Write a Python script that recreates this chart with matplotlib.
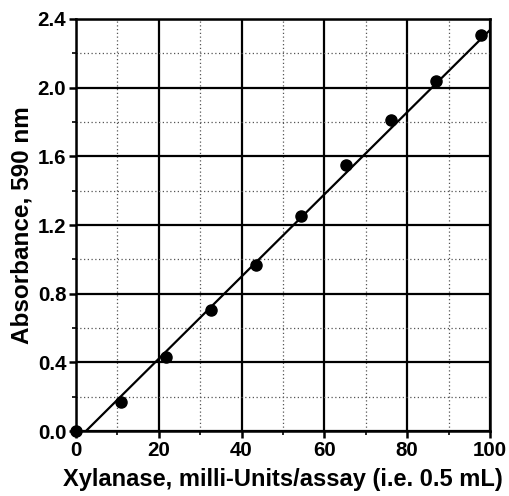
import numpy as np
import matplotlib
matplotlib.use('Agg')
import matplotlib.pyplot as plt
from matplotlib.ticker import MultipleLocator, FormatStrFormatter

# Standard curve readings
xylanase = [0, 10.9, 21.8, 32.6, 43.5, 54.4, 65.3, 76.2, 87.0, 97.9]
absorbance = [0.0, 0.171, 0.431, 0.703, 0.965, 1.252, 1.549, 1.811, 2.040, 2.306]

# fitted line end points
fit_x = [2.4, 100]
fit_y = [0.0, 2.336]

plt.rcParams['font.family'] = ['Liberation Sans', 'DejaVu Sans']
plt.rcParams['font.weight'] = 'bold'

fig = plt.figure(figsize=(5.09, 4.96), dpi=100)
ax = fig.add_axes([0.1493, 0.131, 0.8134, 0.8307])

ax.set_xlim(0, 100)
ax.set_ylim(0, 2.4)

ax.xaxis.set_major_locator(MultipleLocator(20))
ax.xaxis.set_minor_locator(MultipleLocator(10))
ax.yaxis.set_major_locator(MultipleLocator(0.4))
ax.yaxis.set_minor_locator(MultipleLocator(0.2))

ax.grid(which='major', color='black', linewidth=1.6)
ax.grid(which='minor', color='#555555', linewidth=0.9, linestyle=(0, (1, 2)))
ax.set_axisbelow(True)

for s in ax.spines.values():
    s.set_linewidth(1.8)

ax.tick_params(which='major', direction='out', length=5, width=1.8, labelsize=14.8, pad=2)
ax.tick_params(which='minor', direction='out', length=3, width=1.2)
ax.yaxis.set_major_formatter(FormatStrFormatter('%.1f'))

ax.plot(fit_x, fit_y, color='black', linewidth=1.6)
ax.plot(xylanase, absorbance, 'o', color='black', markersize=8, clip_on=False, zorder=5)

ax.set_xlabel('Xylanase, milli-Units/assay (i.e. 0.5 mL)', fontsize=17, fontweight='bold', labelpad=6)
ax.set_ylabel('Absorbance, 590 nm', fontsize=17.5, fontweight='bold', labelpad=3)

plt.savefig('out.png', dpi=100)
